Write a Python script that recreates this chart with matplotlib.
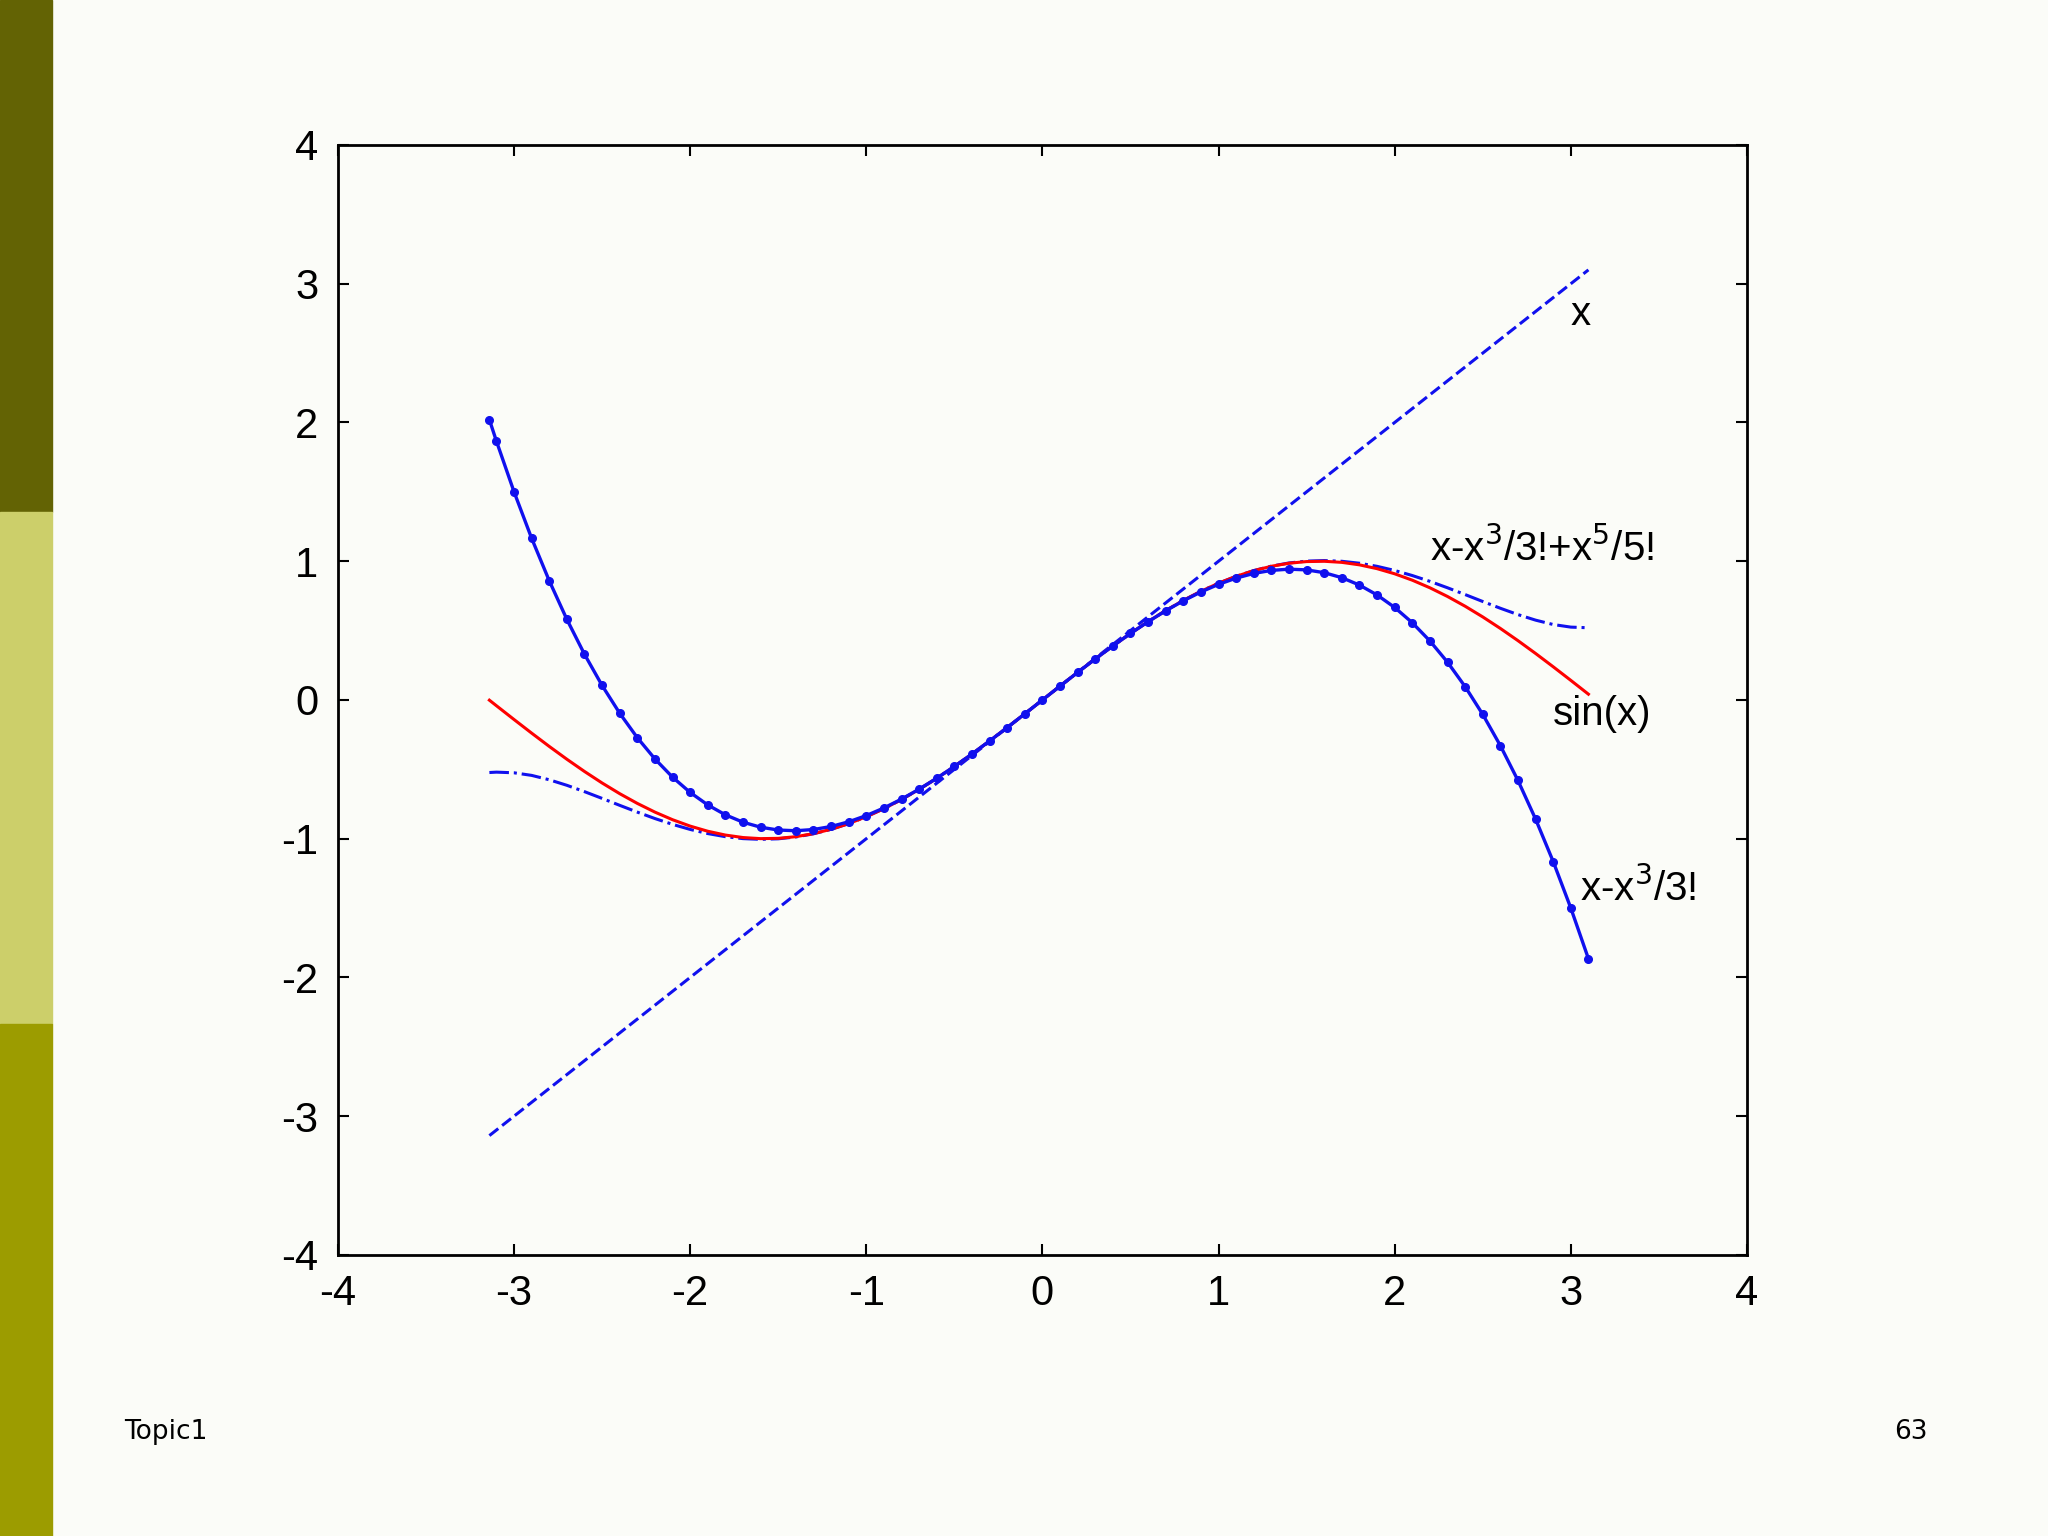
import numpy as np
import matplotlib.pyplot as plt
from matplotlib.patches import Rectangle

# values (positive half; curves are odd, mirrored below)
x_pos = [0.1, 0.2, 0.3, 0.4, 0.5, 0.6, 0.7, 0.8, 0.9, 1.0, 1.1, 1.2, 1.3, 1.4, 1.5, 1.6,
         1.7, 1.8, 1.9, 2.0, 2.1, 2.2, 2.3, 2.4, 2.5, 2.6, 2.7, 2.8, 2.9, 3.0, 3.1]
sin_pos = [0.0998, 0.1987, 0.2955, 0.3894, 0.4794, 0.5646, 0.6442, 0.7174, 0.7833, 0.8415,
           0.8912, 0.932, 0.9636, 0.9854, 0.9975, 0.9996, 0.9917, 0.9738, 0.9463, 0.9093,
           0.8632, 0.8085, 0.7457, 0.6755, 0.5985, 0.5155, 0.4274, 0.335, 0.2392, 0.1411, 0.0416]
t3_pos = [0.0998, 0.1987, 0.2955, 0.3893, 0.4792, 0.564, 0.6428, 0.7147, 0.7785, 0.8333,
          0.8782, 0.912, 0.9338, 0.9427, 0.9375, 0.9173, 0.8812, 0.828, 0.7568, 0.6667,
          0.5565, 0.4253, 0.2722, 0.096, -0.1042, -0.3293, -0.5805, -0.8587, -1.1648, -1.5, -1.8652]
t5_pos = [0.0998, 0.1987, 0.2955, 0.3894, 0.4794, 0.5647, 0.6442, 0.7174, 0.7834, 0.8417,
          0.8916, 0.9327, 0.9647, 0.9875, 1.0008, 1.0047, 0.9995, 0.9855, 0.9631, 0.9333,
          0.8968, 0.8548, 0.8085, 0.7596, 0.7096, 0.6609, 0.6152, 0.5753, 0.5437, 0.525, 0.5203]
# left end point at x = -3.14
x_start, sin_start, t3_start, t5_start = -3.14, -0.0016, 2.02, -0.523

def mirror(v, start):
    v = np.array(v)
    return np.concatenate([[start], -v[::-1], [0.0], v])

x = mirror(x_pos, x_start)
y_sin = mirror(sin_pos, sin_start)
y_t3 = mirror(t3_pos, t3_start)
y_t5 = mirror(t5_pos, t5_start)

plt.rcParams["font.family"] = ["Liberation Sans", "DejaVu Sans"]
plt.rcParams["axes.unicode_minus"] = False

blue = "#1010ee"
fig = plt.figure(figsize=(20.48, 15.36), dpi=100, facecolor="#fbfcf8")

# sidebar strips
for y0, c in [(2 / 3, "#636304"), (1 / 3, "#cccf6a"), (0, "#9c9c00")]:
    fig.patches.append(Rectangle((0, y0), 0.0255, 1 / 3, transform=fig.transFigure,
                                 color=c, zorder=0))

ax = fig.add_axes([0.165, 0.183, 0.688, 0.7226])
ax.set_facecolor("#fbfcf8")
ax.plot(x, x, "--", color=blue, lw=2.2)
ax.plot(x, y_t5, "-.", color=blue, lw=2.2)
ax.plot(x, y_sin, "-", color="red", lw=2.2)
ax.plot(x, y_t3, "-", color=blue, lw=2.4, marker="o", ms=5.5)

ax.set_xlim(-4, 4)
ax.set_ylim(-4, 4)
ax.set_xticks(range(-4, 5))
ax.set_yticks(range(-4, 5))
ax.tick_params(direction="in", top=True, right=True, length=8, width=1.5,
               labelsize=30, pad=14)
for s in ax.spines.values():
    s.set_linewidth(2)

fs = 29
ax.text(3.0, 2.7, "x", fontsize=fs)
ax.text(2.2, 1.0, r"x-x$^3$/3!+x$^5$/5!", fontsize=fs)
ax.text(2.9, -0.18, "sin(x)", fontsize=fs)
ax.text(3.05, -1.45, r"x-x$^3$/3!", fontsize=fs)

fig.text(0.0605, 0.063, "Topic1", fontsize=19, family="DejaVu Sans")
fig.text(0.925, 0.063, "63", fontsize=19, family="DejaVu Sans")

fig.savefig("out.png", dpi=100, facecolor=fig.get_facecolor())
